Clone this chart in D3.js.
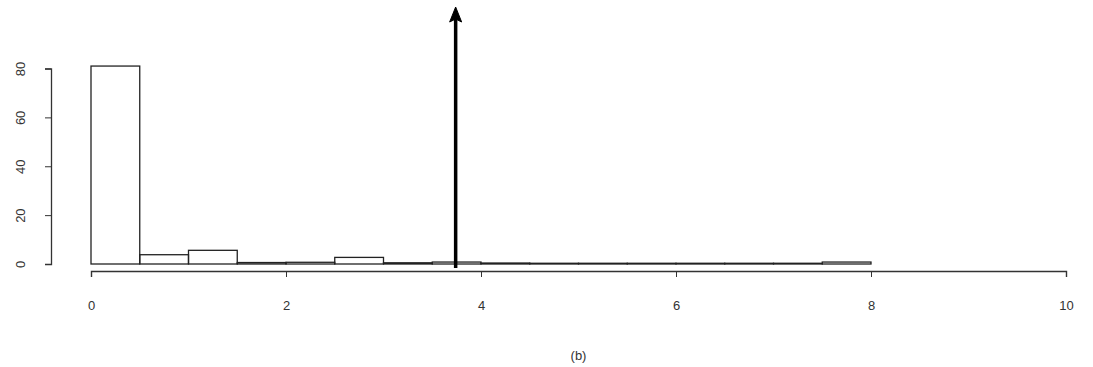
<!DOCTYPE html>
<html>
<head>
<meta charset="utf-8">
<script src="https://cdn.jsdelivr.net/npm/d3@7/dist/d3.min.js"></script>
<style>
  html, body { margin: 0; padding: 0; background: #fff; }
  svg { display: block; }
  text { font-family: "Liberation Sans", Arial, sans-serif; fill: #333; }
</style>
</head>
<body>
<svg id="chart" width="1093" height="367"></svg>
<script>
// Histogram bins (left edges, width 0.5) and heights
const binStarts = [0, 0.5, 1, 1.5, 2, 2.5, 3, 3.5, 4, 4.5, 5, 5.5, 6, 6.5, 7, 7.5];
const binWidth = 0.5;
const heights = [81, 3.8, 5.6, 0.6, 0.7, 2.7, 0.5, 0.8, 0.4, 0.3, 0.3, 0.3, 0.3, 0.3, 0.3, 0.8];
const xTicks = [0, 2, 4, 6, 8, 10];
const yTicks = [0, 20, 40, 60, 80];
const markerValue = 3.74;   // position of the vertical arrow
const caption = "(b)";

const svg = d3.select("#chart");
const x = d3.scaleLinear().domain([0, 10]).range([91, 1066]);
const y = d3.scaleLinear().domain([0, 80]).range([264, 68.5]);

const ink = "#222";
const fontSize = 13;

// bars
svg.append("g").selectAll("rect")
  .data(binStarts)
  .join("rect")
  .attr("x", (d) => x(d))
  .attr("width", (d) => x(d + binWidth) - x(d))
  .attr("y", (d, i) => y(heights[i]))
  .attr("height", (d, i) => y(0) - y(heights[i]))
  .attr("fill", "none")
  .attr("stroke", ink)
  .attr("stroke-width", 1.3);

// x axis
const xAxis = d3.axisBottom(x).tickValues(xTicks).tickSize(6).tickPadding(24).tickFormat(d3.format("d"));
const gx = svg.append("g").attr("transform", "translate(0,271)").call(xAxis);
gx.select(".domain").attr("stroke", "#333").attr("stroke-width", 1.4);
gx.selectAll(".tick line").attr("stroke", "#333");
gx.selectAll(".tick text").attr("font-size", fontSize).attr("fill", "#222")
  .attr("font-family", "Liberation Sans, Arial, sans-serif");

// y axis
const yAxis = d3.axisLeft(y).tickValues(yTicks).tickSize(6).tickPadding(0).tickFormat(d3.format("d"));
const gy = svg.append("g").attr("transform", "translate(51,0)").call(yAxis);
gy.select(".domain").attr("stroke", "#333").attr("stroke-width", 1.3);
gy.selectAll(".tick line").attr("stroke", "#333");
gy.selectAll(".tick text").remove();
gy.selectAll(".tick").append("text")
  .attr("transform", "translate(-31,0) rotate(-90)")
  .attr("text-anchor", "middle")
  .attr("dy", "0.35em")
  .attr("font-size", fontSize)
  .attr("font-family", "Liberation Sans, Arial, sans-serif")
  .attr("fill", "#222")
  .text((d) => d);

// arrow at the marker position: shaft plus a filled head
const ax = x(markerValue);
svg.append("line")
  .attr("x1", ax).attr("x2", ax)
  .attr("y1", 268).attr("y2", 18)
  .attr("stroke", "#000").attr("stroke-width", 3.5);
svg.append("path")
  .attr("d", `M${ax},7 L${ax + 6},22 L${ax},19 L${ax - 6},22 Z`)
  .attr("fill", "#000")
  .attr("stroke", "#000")
  .attr("stroke-width", 1)
  .attr("stroke-linejoin", "miter");

// caption
svg.append("text")
  .attr("x", (x(0) + x(10)) / 2)
  .attr("y", 360)
  .attr("text-anchor", "middle")
  .attr("font-size", fontSize)
  .text(caption);
</script>
</body>
</html>
